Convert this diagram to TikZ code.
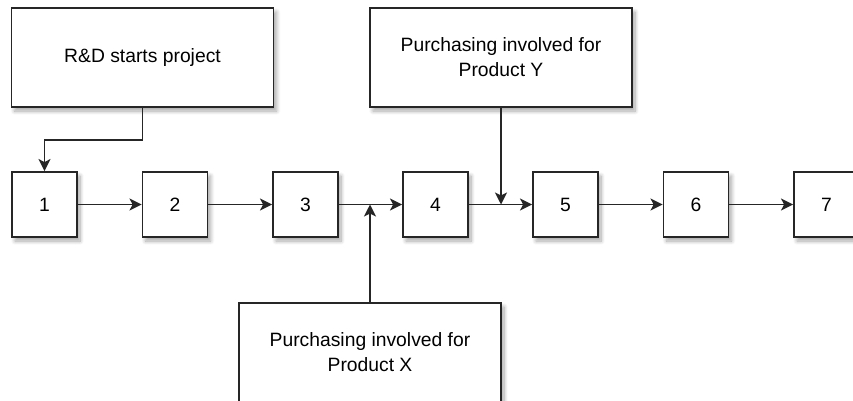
\documentclass[tikz,border=0pt]{standalone}
\usepackage{fontspec}
\setmainfont{Liberation Sans}
\usetikzlibrary{arrows.meta,shadows.blur}
\begin{document}
\begin{tikzpicture}[x=1pt,y=-1pt,
  box/.style={draw=black!85, line width=1.9pt, fill=white, inner sep=0pt,
    align=center, font=\fontsize{19.3}{25}\selectfont,
    blur shadow={shadow xshift=3pt, shadow yshift=-4pt, shadow blur radius=4pt,
      shadow opacity=35, shadow blur steps=8, shadow scale=1}},
  stepbox/.style={box, minimum width=65pt, minimum height=65pt},
  notebox/.style={box, minimum width=262pt, minimum height=99pt},
  flow/.style={draw=black!85, line width=1.9pt,
    -{Stealth[length=12pt, width=12pt, inset=3pt]}}]
  \useasboundingbox (0,0) rectangle (853,400);
  \clip (0,0) rectangle (853,400);
  % process steps
  \node[stepbox] (s1) at (44.5,204.5) {1};
  \node[stepbox] (s2) at (175,204.5) {2};
  \node[stepbox] (s3) at (305.5,204.5) {3};
  \node[stepbox] (s4) at (435.5,204.5) {4};
  \node[stepbox] (s5) at (565.5,204.5) {5};
  \node[stepbox] (s6) at (696,204.5) {6};
  \node[stepbox] (s7) at (826.5,204.5) {7};
  % annotation boxes
  \node[notebox] (rd) at (142.5,57.5) {R\&D starts project};
  \node[notebox] (py) at (501,57.5) {Purchasing involved for\\Product Y};
  \node[notebox] (px) at (370,352.5) {Purchasing involved for\\Product X};
  % junction points on the main flow
  \coordinate (jx) at (370,204.5);
  \coordinate (jy) at (501,204.5);
  % main flow
  \draw[flow] (s1) -- (s2);
  \draw[flow] (s2) -- (s3);
  \draw[flow] (s3) -- (s4);
  \draw[flow] (s4) -- (s5);
  \draw[flow] (s5) -- (s6);
  \draw[flow] (s6) -- (s7);
  % inputs
  \draw[flow] (rd.south) -- ++(0,32) -| (s1.north);
  \draw[flow] (py.south) -- (jy);
  \draw[flow] (px.north) -- (jx);
\end{tikzpicture}
\end{document}
